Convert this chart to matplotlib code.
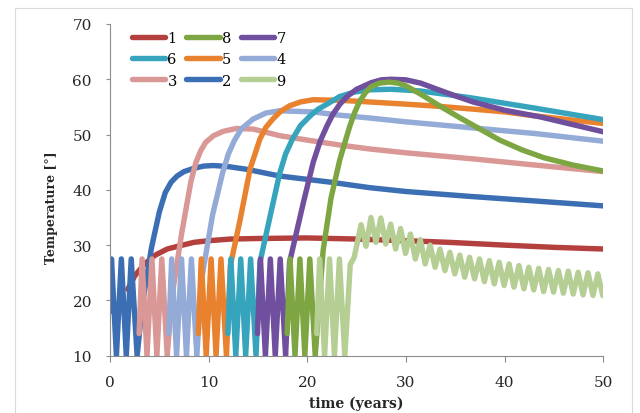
import matplotlib
matplotlib.use("Agg")
import matplotlib.pyplot as plt
from matplotlib.patches import Rectangle

# ---- data (time in years, temperature in degrees) ----
time_1 = [1.8, 2.5, 3.5, 4.6, 5.8, 7.1, 8.5, 10.0, 12.2, 15.0, 20.0, 25.0, 30.0, 34.4, 40.0, 45.0, 50.0]
temp_1 = [22.0, 24.4, 26.6, 28.2, 29.3, 29.9, 30.5, 30.8, 31.1, 31.2, 31.3, 31.1, 30.8, 30.5, 30.0, 29.6, 29.3]

time_2 = [0.0, 0.15, 0.65, 1.15, 1.65, 2.15, 2.75, 3.3, 4.2, 5.0, 5.6, 6.2, 6.8, 7.5, 8.5, 9.5, 10.5,
          12.0, 13.9, 17.2, 22.3, 26.3, 30.0, 36.6, 43.0, 50.0]
temp_2 = [18.0, 27.5, 10.0, 27.5, 10.0, 27.5, 10.0, 19.5, 29.5, 36.0, 39.5, 41.4, 42.5, 43.3, 43.9, 44.3, 44.4,
          44.2, 43.7, 42.5, 41.4, 40.4, 39.7, 38.8, 38.0, 37.1]

time_3 = [2.95, 3.25, 3.75, 4.25, 4.75, 5.25, 5.8, 6.25, 7.25, 8.2, 8.7, 9.2, 9.7, 10.5, 11.5, 12.8,
          14.5, 17.2, 20.0, 23.3, 26.3, 30.0, 36.8, 43.0, 50.0]
temp_3 = [14.0, 27.5, 10.0, 27.5, 10.0, 27.5, 10.0, 20.3, 32.0, 41.5, 44.9, 47.1, 48.6, 49.8, 50.6, 51.1,
          51.0, 49.8, 49.0, 48.1, 47.4, 46.7, 45.6, 44.5, 43.3]

time_4 = [5.95, 6.25, 6.75, 7.25, 7.75, 8.25, 8.8, 9.3, 10.4, 11.4, 12.0, 12.6, 13.3, 14.5, 15.8, 17.2,
          20.6, 23.3, 26.3, 30.0, 36.8, 43.0, 50.0]
temp_4 = [14.0, 27.5, 10.0, 27.5, 10.0, 27.5, 10.0, 24.0, 35.5, 43.0, 46.5, 48.9, 51.0, 52.8, 53.9, 54.3,
          54.1, 53.5, 53.0, 52.3, 51.2, 50.2, 48.8]

time_5 = [8.95, 9.25, 9.75, 10.25, 10.75, 11.25, 11.8, 12.2, 13.2, 14.2, 15.2, 15.8, 16.5, 17.3, 18.2,
          19.3, 20.6, 23.3, 26.3, 30.0, 33.4, 36.8, 40.0, 43.0, 50.0]
temp_5 = [14.0, 27.5, 10.0, 27.5, 10.0, 27.5, 10.0, 26.3, 34.7, 43.8, 49.2, 51.3, 52.8, 54.2, 55.2,
          55.9, 56.3, 56.2, 55.9, 55.5, 55.1, 54.6, 54.1, 53.4, 52.0]

time_6 = [11.95, 12.25, 12.75, 13.25, 13.75, 14.25, 14.8, 15.2, 16.2, 17.2, 17.8, 18.5, 19.3, 20.3, 21.1,
          22.0, 23.3, 24.8, 26.4, 28.5, 31.4, 36.4, 43.0, 50.0]
temp_6 = [14.0, 27.5, 10.0, 27.5, 10.0, 27.5, 10.0, 26.9, 35.0, 43.0, 46.5, 49.2, 51.6, 53.4, 54.6,
          55.5, 56.9, 57.7, 58.1, 58.2, 57.9, 56.7, 54.8, 52.7]

time_7 = [14.95, 15.25, 15.75, 16.25, 16.75, 17.25, 17.8, 18.2, 19.6, 20.6, 21.3, 22.0, 22.6, 23.3, 24.1,
          25.0, 26.5, 27.5, 28.5, 30.0, 31.5, 33.0, 35.0, 36.8, 40.0, 43.6, 50.0]
temp_7 = [14.0, 27.5, 10.0, 27.5, 10.0, 27.5, 10.0, 26.9, 37.7, 45.0, 48.8, 51.6, 53.7, 55.5, 57.0,
          58.2, 59.4, 59.9, 60.0, 59.9, 59.3, 58.3, 57.0, 55.9, 54.4, 53.2, 50.5]

time_8 = [17.95, 18.25, 18.75, 19.25, 19.75, 20.25, 20.8, 21.6, 22.4, 23.3, 24.3, 24.8, 25.3, 25.9, 26.5,
          27.3, 28.3, 29.2, 30.0, 31.5, 33.4, 35.5, 37.5, 39.5, 41.8, 44.0, 46.9, 50.0]
temp_8 = [14.0, 27.5, 10.0, 27.5, 10.0, 27.5, 10.0, 29.0, 38.5, 45.5, 51.5, 54.0, 56.0, 57.6, 58.7,
          59.3, 59.5, 59.3, 58.8, 57.3, 55.2, 53.0, 51.0, 49.0, 47.2, 45.8, 44.5, 43.4]

time_9 = [20.95, 21.25, 21.75, 22.25, 22.75, 23.25, 23.8, 24.35, 24.75,
          25.45, 25.95, 26.45, 26.95, 27.45, 27.95, 28.45, 28.95, 29.45, 29.95, 30.45, 30.95,
          31.45, 31.95, 32.45, 32.95, 33.45, 33.95, 34.45, 34.95, 35.45, 35.95, 36.45, 36.95,
          37.45, 37.95, 38.45, 38.95, 39.45, 39.95, 40.45, 40.95, 41.45, 41.95, 42.45, 42.95,
          43.45, 43.95, 44.45, 44.95, 45.45, 45.95, 46.45, 46.95, 47.45, 47.95, 48.45, 48.95,
          49.45, 49.95]
temp_9 = [14.0, 27.5, 10.0, 27.5, 10.0, 27.5, 10.0, 26.5, 27.8,
          33.7, 29.8, 35.0, 30.5, 34.9, 30.2, 33.8, 29.3, 33.0, 28.5, 32.0, 27.5,
          31.0, 26.6, 30.0, 26.0, 29.3, 25.4, 28.7, 24.8, 28.2, 24.2, 27.8, 23.9,
          27.5, 23.4, 27.2, 23.0, 26.9, 22.7, 26.6, 22.4, 26.3, 22.1, 26.0, 21.9,
          25.8, 21.6, 25.6, 21.5, 25.4, 21.3, 25.3, 21.15, 25.1, 21.0, 25.0, 20.9,
          24.8, 20.85]

labels = ["1", "2", "3", "4", "5", "6", "7", "8", "9"]
colors = ["#B3403D", "#3C6EB4", "#D99795", "#93ABD6", "#E8822E",
          "#36A4BC", "#6F4F9E", "#7DA642", "#B5CE94"]
series = [(time_1, temp_1), (time_2, temp_2), (time_3, temp_3), (time_4, temp_4),
          (time_5, temp_5), (time_6, temp_6), (time_7, temp_7), (time_8, temp_8),
          (time_9, temp_9)]

# ---- figure ----
W, H = 640, 414
fig = plt.figure(figsize=(W / 100, H / 100), dpi=100, facecolor="white")
ax = fig.add_axes([110 / W, 1 - 356.7 / H, (603.3 - 110) / W, (356.7 - 25) / H])

# faint chart-area border (bottom edge falls outside the image)
fig.patches.append(Rectangle((15 / W, -10 / H), (632 - 15) / W, (414 + 10 - 9) / H,
                             transform=fig.transFigure, fill=False,
                             edgecolor="#DADADA", lw=0.8))

lines = {}
for lab, col, (t, v) in zip(labels, colors, series):
    ln, = ax.plot(t, v, color=col, lw=3.9, label=lab,
                  solid_capstyle="round", solid_joinstyle="round")
    lines[lab] = ln

ax.set_xlim(0, 50)
ax.set_ylim(10, 70)
ax.set_xticks(range(0, 51, 10))
ax.set_yticks(range(10, 71, 10))

grey = "#8C8C8C"
for s in ["top", "right"]:
    ax.spines[s].set_visible(False)
for s in ["left", "bottom"]:
    ax.spines[s].set_color(grey)
    ax.spines[s].set_linewidth(0.8)
ax.tick_params(axis="both", colors=grey, labelcolor="#262626", labelsize=11,
               width=0.8, direction="out")
ax.tick_params(axis="x", length=4, pad=10)
ax.tick_params(axis="y", length=3, pad=10)
for lb in ax.get_xticklabels() + ax.get_yticklabels():
    lb.set_fontfamily("DejaVu Serif")

ax.set_xlabel("time (years)", fontfamily="DejaVu Serif", fontweight="bold",
              fontsize=10, labelpad=5, color="#262626")
ax.set_ylabel("Temperature [°]", fontfamily="DejaVu Serif", fontweight="bold",
              fontsize=9, color="#262626")
ax.yaxis.set_label_coords(-0.105, 0.45)

# legend laid out row-wise: 1 8 7 / 6 5 4 / 3 2 9
order = ["1", "6", "3", "8", "5", "2", "7", "4", "9"]
leg = ax.legend([lines[k] for k in order], order, ncol=3, frameon=False,
                loc="upper left", bbox_to_anchor=(131.7 / W, 1 - 32 / H),
                bbox_transform=fig.transFigure, borderaxespad=0, borderpad=0,
                handlelength=2.3, handletextpad=0.15, columnspacing=0.65,
                labelspacing=0.5, prop={"family": "DejaVu Serif", "size": 10.5})

fig.savefig("out.png", dpi=100)
